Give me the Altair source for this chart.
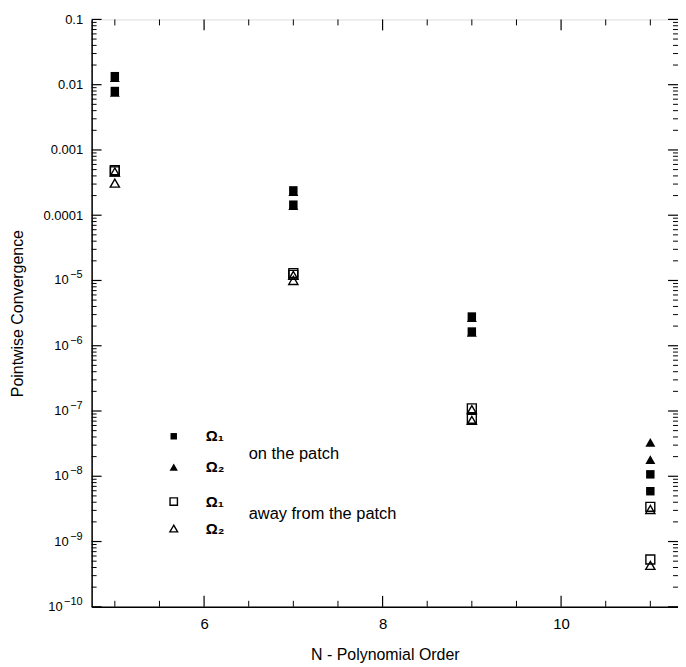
import math
import altair as alt
import pandas as pd

# ---------------- data ----------------
N = [5, 7, 9, 11]
on_o1_a = [0.0135, 2.4e-4, 2.8e-6, 1.07e-8]     # filled square
on_o1_b = [0.0080, 1.45e-4, 1.65e-6, 5.9e-9]
on_o2_a = [0.0128, 2.3e-4, 2.7e-6, 3.3e-8]      # filled triangle
on_o2_b = [0.0076, 1.4e-4, 1.6e-6, 1.8e-8]
away_o1_a = [4.9e-4, 1.3e-5, 1.1e-7, 3.4e-9]    # open square
away_o1_b = [4.7e-4, 1.22e-5, 7.6e-8, 5.3e-10]
away_o2_a = [4.6e-4, 1.2e-5, 1.05e-7, 3.1e-9]   # open triangle
away_o2_b = [3.1e-4, 1.0e-5, 7.2e-8, 4.3e-10]

y_major = [1e-10, 1e-9, 1e-8, 1e-7, 1e-6, 1e-5, 1e-4, 1e-3, 1e-2, 1e-1]
dec_values = [1e-4, 1e-3, 1e-2, 1e-1]
dec_labels = ["0.0001", "0.001", "0.01", "0.1"]
pow_values_1 = [1e-9, 1e-8, 1e-7, 1e-6, 1e-5]
pow_exps_1 = ["−9", "−8", "−7", "−6", "−5"]
pow_values_2 = [1e-10]
pow_exps_2 = ["−10"]
y_minor = [m * 10.0 ** e for e in range(-10, -1) for m in range(2, 10)]
x_major = [6, 8, 10]
x_minor = [5, 5.5, 6.5, 7, 7.5, 8.5, 9, 9.5, 10.5, 11]

leg_x = [5.66, 5.66, 5.66, 5.66]
leg_y = [4.1e-8, 1.38e-8, 4.1e-9, 1.58e-9]
leg_sym = ["fsq", "ftri", "osq", "otri"]
leg_text = ["Ω₁", "Ω₂", "Ω₁", "Ω₂"]
leg_text_x = 6.02
group_text = ["on the patch", "away from the patch"]
group_y = [2.2e-8, 2.6e-9]
group_x = 6.5

W, H = 589, 590
FONT = "Liberation Sans"

# ---------------- scales / axes ----------------
label_expr = ""
for v, l in zip(dec_values, dec_labels):
    label_expr += f"abs(log(datum.value)/LN10 - ({round(math.log10(v))})) < 0.01 ? '{l}' : "
label_expr += "''"

yscale = alt.Scale(type="log", domain=[1e-10, 0.1], nice=False)
xscale = alt.Scale(domain=[4.74, 11.31], nice=False, zero=False)

yaxis = alt.Axis(values=y_major, labelExpr=label_expr, ticks=False, grid=False,
                 domainColor="black", domainWidth=1.5, labelFont=FONT,
                 labelFontSize=13, labelColor="black", labelPadding=9,
                 title="Pointwise Convergence", titleFont=FONT, titleFontSize=16,
                 titleFontWeight="normal", titleColor="black", titlePadding=18)
xaxis = alt.Axis(values=x_major, format="d", ticks=False, grid=False,
                 domainColor="black", domainWidth=1.5, labelFont=FONT,
                 labelFontSize=15, labelColor="black", labelPadding=10,
                 title="N - Polynomial Order", titleFont=FONT, titleFontSize=16,
                 titleFontWeight="normal", titleColor="black", titlePadding=15)


def Y():
    return alt.Y("y:Q", scale=yscale, axis=yaxis)


def X():
    return alt.X("x:Q", scale=xscale, axis=xaxis)


rows = []
for name, vals in [("fsq", on_o1_a), ("fsq", on_o1_b), ("ftri", on_o2_a), ("ftri", on_o2_b),
                   ("osq", away_o1_a), ("osq", away_o1_b), ("otri", away_o2_a), ("otri", away_o2_b)]:
    for n, v in zip(N, vals):
        rows.append({"x": n, "y": v, "s": name})
df = pd.DataFrame(rows)

leg_df = pd.DataFrame({"x": leg_x, "y": leg_y, "s": leg_sym})


def pts(sym, shape, filled, size_data, size_leg):
    layers = []
    for dd, sz in [(df[df["s"] == sym], size_data), (leg_df[leg_df["s"] == sym], size_leg)]:
        if filled:
            m = alt.Chart(dd).mark_point(shape=shape, filled=True, color="black",
                                         size=sz, opacity=1)
        else:
            m = alt.Chart(dd).mark_point(shape=shape, filled=False, stroke="black",
                                         strokeWidth=1.4, size=sz, opacity=1)
        layers.append(m.encode(x=X(), y=Y()))
    return layers


point_layers = []
point_layers += pts("ftri", "triangle-up", True, 100, 70)
point_layers += pts("fsq", "square", True, 72, 42)
point_layers += pts("osq", "square", False, 80, 55)
point_layers += pts("otri", "triangle-up", False, 85, 60)

# ticks (inward, on all four sides)
ymaj_df = pd.DataFrame({"y": y_major})
ymin_df = pd.DataFrame({"y": y_minor})
xmaj_df = pd.DataFrame({"x": x_major})
xmin_df = pd.DataFrame({"x": x_minor})

tick_layers = [
    alt.Chart(ymaj_df).mark_rule(color="black", strokeWidth=1.2).encode(y=Y(), x=alt.value(0), x2=alt.value(10)),
    alt.Chart(ymin_df).mark_rule(color="black", strokeWidth=1).encode(y=Y(), x=alt.value(0), x2=alt.value(5)),
    alt.Chart(ymaj_df).mark_rule(color="black", strokeWidth=1.2).encode(y=Y(), x=alt.value(W - 10), x2=alt.value(W)),
    alt.Chart(ymin_df).mark_rule(color="black", strokeWidth=1).encode(y=Y(), x=alt.value(W - 5), x2=alt.value(W)),
    alt.Chart(xmaj_df).mark_rule(color="black", strokeWidth=1.2).encode(x=X(), y=alt.value(H - 11), y2=alt.value(H)),
    alt.Chart(xmin_df).mark_rule(color="black", strokeWidth=1).encode(x=X(), y=alt.value(H - 6), y2=alt.value(H)),
    alt.Chart(xmaj_df).mark_rule(color="black", strokeWidth=1.2).encode(x=X(), y=alt.value(0), y2=alt.value(11)),
    alt.Chart(xmin_df).mark_rule(color="black", strokeWidth=1).encode(x=X(), y=alt.value(0), y2=alt.value(6)),
]

# power-of-ten tick labels (base "10" plus raised exponent)
pow1_df = pd.DataFrame({"y": pow_values_1, "e": pow_exps_1, "b": ["10"] * len(pow_values_1)})
pow2_df = pd.DataFrame({"y": pow_values_2, "e": pow_exps_2, "b": ["10"] * len(pow_values_2)})
exp_style = dict(align="right", baseline="middle", font=FONT, fontSize=11, color="black", dy=-5)
base_style = dict(align="right", baseline="middle", font=FONT, fontSize=13, color="black")
pow_layers = [
    alt.Chart(pow1_df).mark_text(**exp_style).encode(y=Y(), x=alt.value(-9), text="e:N"),
    alt.Chart(pow2_df).mark_text(**exp_style).encode(y=Y(), x=alt.value(-9), text="e:N"),
    alt.Chart(pow1_df).mark_text(**base_style).encode(y=Y(), x=alt.value(-23), text="b:N"),
    alt.Chart(pow2_df).mark_text(**base_style).encode(y=Y(), x=alt.value(-29), text="b:N"),
]

leg_txt_df = pd.DataFrame({"x": [leg_text_x] * 4, "y": leg_y, "t": leg_text})
grp_df = pd.DataFrame({"x": [group_x] * 2, "y": group_y, "t": group_text})

text_layers = [
    alt.Chart(leg_txt_df).mark_text(align="left", baseline="middle", font=FONT,
                                    fontSize=15, fontWeight="bold", color="black")
    .encode(x=X(), y=Y(), text="t:N"),
    alt.Chart(grp_df).mark_text(align="left", baseline="middle", font=FONT,
                                fontSize=16.5, color="black")
    .encode(x=X(), y=Y(), text="t:N"),
]

chart = alt.layer(*(tick_layers + point_layers + pow_layers + text_layers)).properties(
    width=W, height=H,
    autosize=alt.AutoSizeParams(type="none"),
    padding={"left": 84, "top": 10, "right": 0, "bottom": 58},
).configure_view(stroke="black", strokeWidth=1.5).configure(background="white")

chart.save("out.html", embed_options={"renderer": "svg", "actions": False})
